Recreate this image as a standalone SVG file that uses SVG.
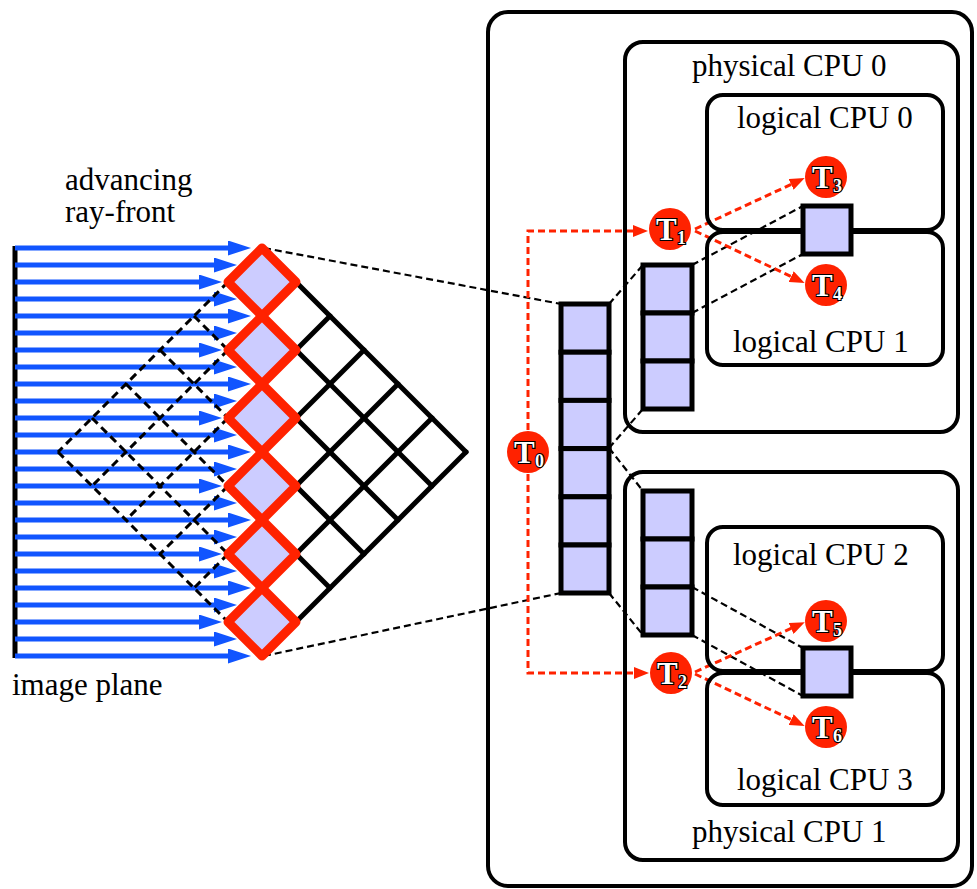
<svg xmlns="http://www.w3.org/2000/svg" width="977" height="889" viewBox="0 0 977 889">
  <style>
    .box { fill: none; stroke: #000; stroke-width: 4; }
    .cell { fill: #ccccff; stroke: #000; stroke-width: 5; }
    .lbl { font-family: 'Liberation Serif', 'DejaVu Serif', serif; font-size: 31px; fill: #000; }
    .conn { fill: none; stroke: #000; stroke-width: 2.2; stroke-dasharray: 7 4; }
    .task { fill: none; stroke: #ff2200; stroke-width: 3; stroke-dasharray: 7 4; }
    .ray { stroke: #1155ff; stroke-width: 5; }
    .grid { stroke: #000; stroke-width: 5; stroke-linecap: round; }
    .dgrid { stroke: #000; stroke-width: 3; stroke-dasharray: 8 5; }
    .front { fill: #ccccff; stroke: #ff2200; stroke-width: 9; stroke-linejoin: round; }
    .tc { fill: #ff2200; }
    .tl { font-family: 'Liberation Serif', 'DejaVu Serif', serif; font-weight: bold; fill: #fff; stroke: #000; stroke-width: 2.2; paint-order: stroke; }
  </style>
  <defs>
    <marker id="rayHead" markerUnits="userSpaceOnUse" markerWidth="23" markerHeight="15" refX="1" refY="7.5" orient="auto">
      <path d="M0,0 L23,7.5 L0,15 z" fill="#1155ff"/>
    </marker>
    <marker id="taskHead" markerUnits="userSpaceOnUse" markerWidth="15" markerHeight="12" refX="1" refY="6" orient="auto">
      <path d="M0,0 L15,6 L0,12 z" fill="#ff2200"/>
    </marker>
  </defs>

  <rect width="977" height="889" fill="#fff"/>

  <!-- ray-front lattice on the image-plane side -->
  <g id="ray-front">
    <line x1="15" y1="246" x2="15" y2="658" stroke="#000" stroke-width="5"/>
    <g id="rays" class="ray" marker-end="url(#rayHead)">
      <line x1="15" y1="248" x2="229" y2="248"/>
      <line x1="15" y1="265" x2="215" y2="265"/>
      <line x1="15" y1="282" x2="200" y2="282"/>
      <line x1="15" y1="299" x2="215" y2="299"/>
      <line x1="15" y1="316" x2="229" y2="316"/>
      <line x1="15" y1="333" x2="215" y2="333"/>
      <line x1="15" y1="350" x2="200" y2="350"/>
      <line x1="15" y1="367" x2="215" y2="367"/>
      <line x1="15" y1="384" x2="229" y2="384"/>
      <line x1="15" y1="401" x2="215" y2="401"/>
      <line x1="15" y1="418" x2="200" y2="418"/>
      <line x1="15" y1="435" x2="215" y2="435"/>
      <line x1="15" y1="452" x2="229" y2="452"/>
      <line x1="15" y1="469" x2="215" y2="469"/>
      <line x1="15" y1="486" x2="200" y2="486"/>
      <line x1="15" y1="503" x2="215" y2="503"/>
      <line x1="15" y1="520" x2="229" y2="520"/>
      <line x1="15" y1="537" x2="215" y2="537"/>
      <line x1="15" y1="554" x2="200" y2="554"/>
      <line x1="15" y1="571" x2="215" y2="571"/>
      <line x1="15" y1="588" x2="229" y2="588"/>
      <line x1="15" y1="605" x2="215" y2="605"/>
      <line x1="15" y1="622" x2="200" y2="622"/>
      <line x1="15" y1="639" x2="215" y2="639"/>
      <line x1="15" y1="656" x2="229" y2="656"/>
    </g>
    <!-- already traversed cells (dashed) -->
    <g id="past-cells" class="dgrid">
      <line x1="228" y1="282" x2="58" y2="452"/>
      <line x1="228" y1="350" x2="92" y2="486"/>
      <line x1="228" y1="418" x2="126" y2="520"/>
      <line x1="228" y1="486" x2="160" y2="554"/>
      <line x1="228" y1="554" x2="194" y2="588"/>
      <line x1="194" y1="316" x2="228" y2="350"/>
      <line x1="160" y1="350" x2="228" y2="418"/>
      <line x1="126" y1="384" x2="228" y2="486"/>
      <line x1="92" y1="418" x2="228" y2="554"/>
      <line x1="58" y1="452" x2="228" y2="622"/>
    </g>
    <!-- cells still ahead of the front -->
    <g id="future-cells" class="grid">
      <line x1="262" y1="248" x2="466" y2="452"/>
      <line x1="262" y1="316" x2="432" y2="486"/>
      <line x1="262" y1="384" x2="398" y2="520"/>
      <line x1="262" y1="452" x2="364" y2="554"/>
      <line x1="262" y1="520" x2="330" y2="588"/>
      <line x1="262" y1="588" x2="296" y2="622"/>
      <line x1="262" y1="316" x2="296" y2="282"/>
      <line x1="262" y1="384" x2="330" y2="316"/>
      <line x1="262" y1="452" x2="364" y2="350"/>
      <line x1="262" y1="520" x2="398" y2="384"/>
      <line x1="262" y1="588" x2="432" y2="418"/>
      <line x1="262" y1="656" x2="466" y2="452"/>
    </g>
  </g>

  <!-- connectors -->
  <g id="connectors">
    <line class="conn" x1="264" y1="248" x2="561" y2="304"/>
    <line class="conn" x1="264" y1="656" x2="561" y2="593"/>
    <line class="conn" x1="609" y1="304" x2="643" y2="265"/>
    <line class="conn" x1="609" y1="448" x2="643" y2="409"/>
    <line class="conn" x1="609" y1="448" x2="643" y2="491"/>
    <line class="conn" x1="609" y1="593" x2="643" y2="635"/>
    <line class="conn" x1="692" y1="265" x2="803" y2="206"/>
    <line class="conn" x1="692" y1="313" x2="803" y2="254"/>
    <line class="conn" x1="692" y1="587" x2="803" y2="648"/>
    <line class="conn" x1="692" y1="635" x2="803" y2="696"/>

    <path class="task" d="M528,452 V231 H634" marker-end="url(#taskHead)"/>
    <path class="task" d="M528,452 V673 H635" marker-end="url(#taskHead)"/>
    <line class="task" x1="695" y1="229" x2="792" y2="184" marker-end="url(#taskHead)"/>
    <line class="task" x1="695" y1="231" x2="792" y2="277" marker-end="url(#taskHead)"/>
    <line class="task" x1="695" y1="672" x2="792" y2="628" marker-end="url(#taskHead)"/>
    <line class="task" x1="695" y1="674" x2="792" y2="720" marker-end="url(#taskHead)"/>
  </g>

  <!-- current front of cells -->
  <g id="front-cells" class="front">
    <polygon points="262,248 296,282 262,316 228,282"/>
    <polygon points="262,316 296,350 262,384 228,350"/>
    <polygon points="262,384 296,418 262,452 228,418"/>
    <polygon points="262,452 296,486 262,520 228,486"/>
    <polygon points="262,520 296,554 262,588 228,554"/>
    <polygon points="262,588 296,622 262,656 228,622"/>
  </g>

  <g id="labels-left">
    <text class="lbl" font-family="Liberation Serif, DejaVu Serif, serif" x="65" y="190">advancing</text>
    <text class="lbl" font-family="Liberation Serif, DejaVu Serif, serif" x="65" y="222">ray-front</text>
    <text class="lbl" font-family="Liberation Serif, DejaVu Serif, serif" x="12" y="695">image plane</text>
  </g>

  <!-- machine -->
  <g id="machine">
    <rect class="box" x="488" y="12" width="484" height="874" rx="20"/>
  </g>

  <g id="physical-cpu-0">
    <rect class="box" x="625" y="42" width="333" height="390" rx="18"/>
    <text class="lbl" x="692" y="76">physical CPU 0</text>
  </g>
  <g id="logical-cpu-0">
    <rect class="box" x="707" y="95" width="236" height="135" rx="16"/>
    <text class="lbl" x="737" y="128">logical CPU 0</text>
  </g>
  <g id="logical-cpu-1">
    <rect class="box" x="707" y="232" width="236" height="133" rx="16"/>
    <text class="lbl" x="733" y="352">logical CPU 1</text>
  </g>

  <g id="physical-cpu-1">
    <rect class="box" x="625" y="472" width="333" height="388" rx="18"/>
    <text class="lbl" x="692" y="842">physical CPU 1</text>
  </g>
  <g id="logical-cpu-2">
    <rect class="box" x="707" y="527" width="236" height="144" rx="16"/>
    <text class="lbl" x="733" y="565">logical CPU 2</text>
  </g>
  <g id="logical-cpu-3">
    <rect class="box" x="707" y="673" width="236" height="132" rx="16"/>
    <text class="lbl" x="737" y="790">logical CPU 3</text>
  </g>

  <!-- work queues -->
  <g id="queue-main">
    <rect class="cell" x="561" y="304" width="48" height="48.2"/>
    <rect class="cell" x="561" y="352.2" width="48" height="48.2"/>
    <rect class="cell" x="561" y="400.4" width="48" height="48.2"/>
    <rect class="cell" x="561" y="448.6" width="48" height="48.2"/>
    <rect class="cell" x="561" y="496.8" width="48" height="48.2"/>
    <rect class="cell" x="561" y="545" width="48" height="48"/>
  </g>
  <g id="queue-cpu0">
    <rect class="cell" x="643" y="265" width="49" height="48"/>
    <rect class="cell" x="643" y="313" width="49" height="48"/>
    <rect class="cell" x="643" y="361" width="49" height="48"/>
  </g>
  <g id="queue-cpu1">
    <rect class="cell" x="643" y="491" width="49" height="48"/>
    <rect class="cell" x="643" y="539" width="49" height="48"/>
    <rect class="cell" x="643" y="587" width="49" height="48"/>
  </g>
  <g id="slot-cpu0">
    <rect class="cell" x="803" y="206" width="48" height="48"/>
  </g>
  <g id="slot-cpu1">
    <rect class="cell" x="803" y="648" width="48" height="48"/>
  </g>

  <!-- threads -->
  <g id="thread-0">
    <circle class="tc" cx="528" cy="452" r="21"/>
    <text class="tl" x="514" y="463" font-size="31">T</text>
    <text class="tl" x="535" y="467" font-size="18">0</text>
  </g>
  <g id="thread-1">
    <circle class="tc" cx="670" cy="229" r="21"/>
    <text class="tl" x="656" y="240" font-size="31">T</text>
    <text class="tl" x="677" y="244" font-size="18">1</text>
  </g>
  <g id="thread-2">
    <circle class="tc" cx="671" cy="673" r="21"/>
    <text class="tl" x="657" y="684" font-size="31">T</text>
    <text class="tl" x="678" y="688" font-size="18">2</text>
  </g>
  <g id="thread-3">
    <circle class="tc" cx="826" cy="177" r="21"/>
    <text class="tl" x="812" y="188" font-size="31">T</text>
    <text class="tl" x="833" y="192" font-size="18">3</text>
  </g>
  <g id="thread-4">
    <circle class="tc" cx="826" cy="285" r="21"/>
    <text class="tl" x="812" y="296" font-size="31">T</text>
    <text class="tl" x="833" y="300" font-size="18">4</text>
  </g>
  <g id="thread-5">
    <circle class="tc" cx="826" cy="621" r="21"/>
    <text class="tl" x="812" y="632" font-size="31">T</text>
    <text class="tl" x="833" y="636" font-size="18">5</text>
  </g>
  <g id="thread-6">
    <circle class="tc" cx="826" cy="727" r="21"/>
    <text class="tl" x="812" y="738" font-size="31">T</text>
    <text class="tl" x="833" y="742" font-size="18">6</text>
  </g>
</svg>
